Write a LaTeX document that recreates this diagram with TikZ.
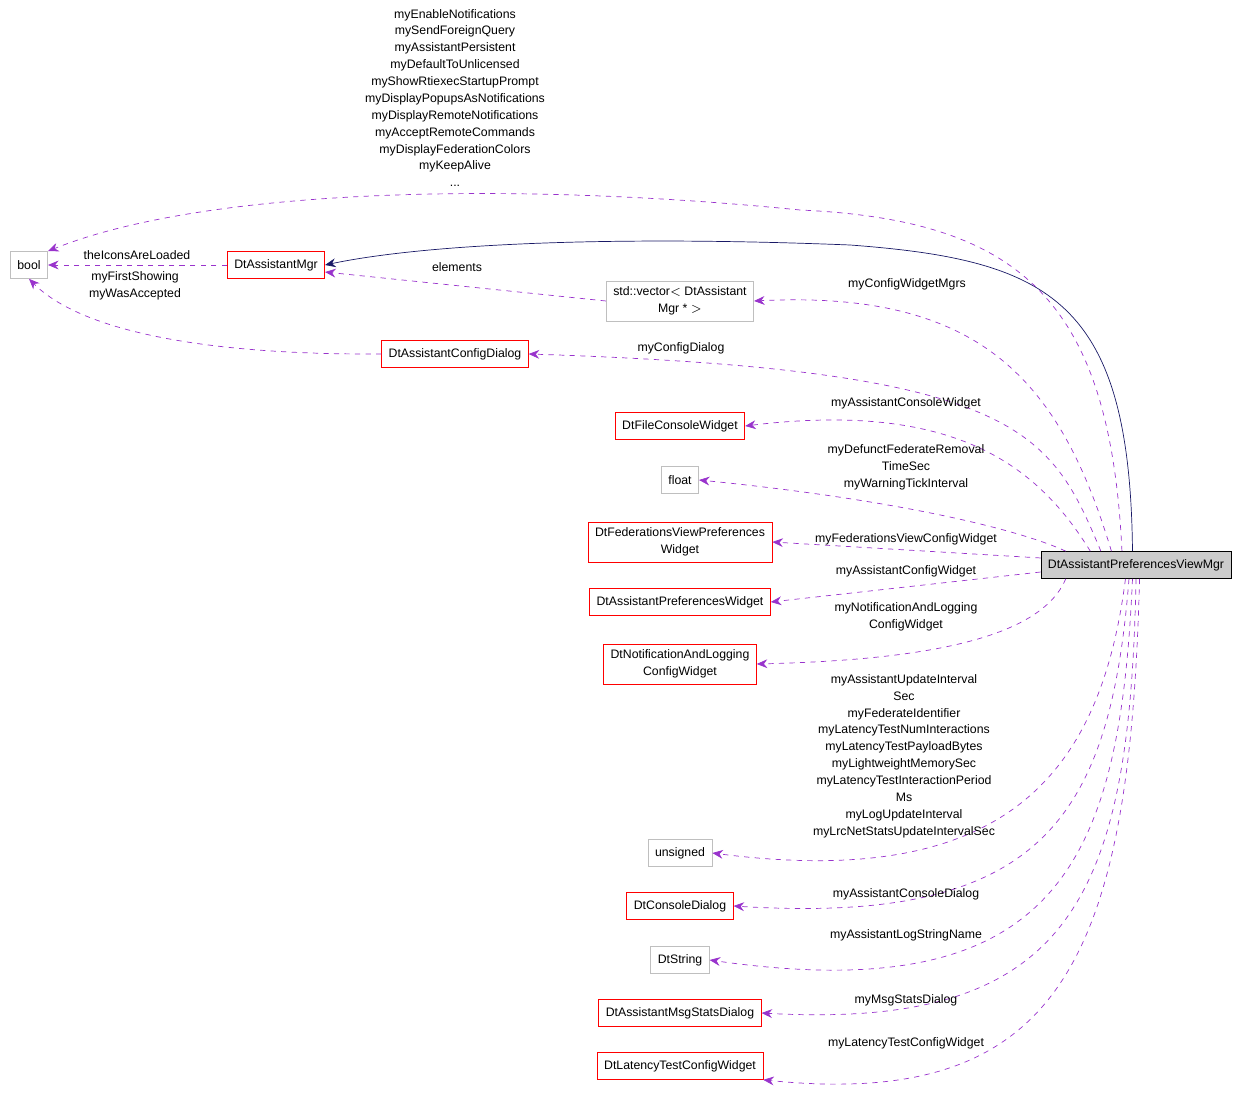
\documentclass[tikz,border=0pt]{standalone}
\usepackage{fontspec}
\setmainfont{Liberation Sans}
\usetikzlibrary{arrows.meta}
\definecolor{memcol}{rgb}{0.6,0.2,0.8}
\definecolor{inhcol}{rgb}{0.1,0.1,0.4}
\definecolor{cls}{rgb}{1.0,0.0,0.0}
\definecolor{ext}{rgb}{0.75,0.75,0.75}

\begin{document}
\begin{tikzpicture}[
  x=0.02cm, y=-0.02cm,
  font=\fontsize{7}{9.6}\selectfont,
  box/.style = {
    draw,
    rectangle,
    fill = white,
    align = center,
    inner xsep = 4pt,
    minimum height = 0.54cm,
  },
  red/.style = {
    box,
    draw = cls,
  },
  gray/.style = {
    box,
    draw = ext,
  },
  mem/.style = {
    draw = memcol,
    dashed,
    -{Stealth[length=6pt,width=5pt]},
  },
  inh/.style = {
    draw = inhcol,
    -{Stealth[length=6pt,width=5pt]},
  },
  lbl/.style = {
    align = center,
  },
]

  \useasboundingbox (0,0) rectangle (1248,1104);

  \node[box,fill=ext!80,draw=black] (main) at (1136,565) {DtAssistantPreferencesViewMgr};

  \node[gray] (bool) at (29,265) {bool};
  \node[red] (mgr) at (276,265) {DtAssistantMgr};
  \node[gray] (vec) at (680,301) {std::vector$<$ DtAssistant\\Mgr * $>$};
  \node[red] (cfgdlg) at (455,354) {DtAssistantConfigDialog};
  \node[red] (filecon) at (680,426) {DtFileConsoleWidget};
  \node[gray] (flt) at (680,480) {float};
  \node[red] (fedview) at (680,542) {DtFederationsViewPreferences\\Widget};
  \node[red] (prefw) at (680,602) {DtAssistantPreferencesWidget};
  \node[red] (notif) at (680,664) {DtNotificationAndLogging\\ConfigWidget};
  \node[gray] (uns) at (680,853) {unsigned};
  \node[red] (condlg) at (680,906) {DtConsoleDialog};
  \node[gray] (str) at (680,960) {DtString};
  \node[red] (msgdlg) at (680,1013) {DtAssistantMsgStatsDialog};
  \node[red] (lat) at (680,1066) {DtLatencyTestConfigWidget};

  % inheritance
  \draw[inh] ([xshift=-2pt]main.north) .. controls (1130,300) and (1050,260) .. (850,245)
    .. controls (600,235) and (420,245) .. (mgr.east);

  % members
  \draw[mem] ([xshift=-8pt]main.north) .. controls (1110,300) and (1020,220) .. (800,210)
    .. controls (500,180) and (200,190) .. (bool.north east);
  \draw[mem] (mgr.west) -- (bool.east);
  \draw[mem] (vec.west) -- ([yshift=-4pt]mgr.east);
  \draw[mem] (cfgdlg.west) .. controls (200,355) and (80,330) .. (bool.south);
  \draw[mem] ([xshift=-14pt]main.north) .. controls (1060,380) and (980,290) .. (vec.east);
  \draw[mem] ([xshift=-20pt]main.north) .. controls (1050,430) and (1020,370) .. (cfgdlg.east);
  \draw[mem] ([xshift=-26pt]main.north) .. controls (1040,470) and (960,400) .. (filecon.east);
  \draw[mem] ([xshift=-40pt]main.north) .. controls (1020,530) and (900,500) .. (flt.east);
  \draw[mem] ([yshift=4pt]main.west) -- (fedview.east);
  \draw[mem] ([yshift=-4pt]main.west) -- (prefw.east);
  \draw[mem] ([xshift=-40pt]main.south) .. controls (1040,640) and (920,660) .. (notif.east);
  \draw[mem] ([xshift=-6pt]main.south) .. controls (1100,780) and (1000,890) .. (uns.east);
  \draw[mem] ([xshift=-4pt]main.south) .. controls (1110,820) and (1040,925) .. (condlg.east);
  \draw[mem] ([xshift=-2pt]main.south) .. controls (1120,860) and (1060,1010) .. (str.east);
  \draw[mem] (main.south) .. controls (1130,900) and (1070,1030) .. (msgdlg.east);
  \draw[mem] ([xshift=2pt]main.south) .. controls (1130,960) and (1060,1110) .. (lat.south east);

  % labels
  \node[lbl] (l0) at (455,98) {myEnableNotifications\\mySendForeignQuery\\myAssistantPersistent\\myDefaultToUnlicensed\\myShowRtiexecStartupPrompt\\myDisplayPopupsAsNotifications\\myDisplayRemoteNotifications\\myAcceptRemoteCommands\\myDisplayFederationColors\\myKeepAlive\\...};
  \node[lbl] (l1) at (137,255) {theIconsAreLoaded};
  \node[lbl] (l2) at (457,267) {elements};
  \node[lbl] (l3) at (135,286) {myFirstShowing\\myWasAccepted};
  \node[lbl] (l4) at (907,284) {myConfigWidgetMgrs};
  \node[lbl] (l5) at (681,348) {myConfigDialog};
  \node[lbl] (l6) at (906,403) {myAssistantConsoleWidget};
  \node[lbl] (l7) at (906,467) {myDefunctFederateRemoval\\TimeSec\\myWarningTickInterval};
  \node[lbl] (l8) at (906,539) {myFederationsViewConfigWidget};
  \node[lbl] (l9) at (906,571) {myAssistantConfigWidget};
  \node[lbl] (l10) at (906,617) {myNotificationAndLogging\\ConfigWidget};
  \node[lbl] (l11) at (904,756) {myAssistantUpdateInterval\\Sec\\myFederateIdentifier\\myLatencyTestNumInteractions\\myLatencyTestPayloadBytes\\myLightweightMemorySec\\myLatencyTestInteractionPeriod\\Ms\\myLogUpdateInterval\\myLrcNetStatsUpdateIntervalSec};
  \node[lbl] (l12) at (906,894) {myAssistantConsoleDialog};
  \node[lbl] (l13) at (906,935) {myAssistantLogStringName};
  \node[lbl] (l14) at (906,1000) {myMsgStatsDialog};
  \node[lbl] (l15) at (906,1043) {myLatencyTestConfigWidget};

\end{tikzpicture}
\end{document}
